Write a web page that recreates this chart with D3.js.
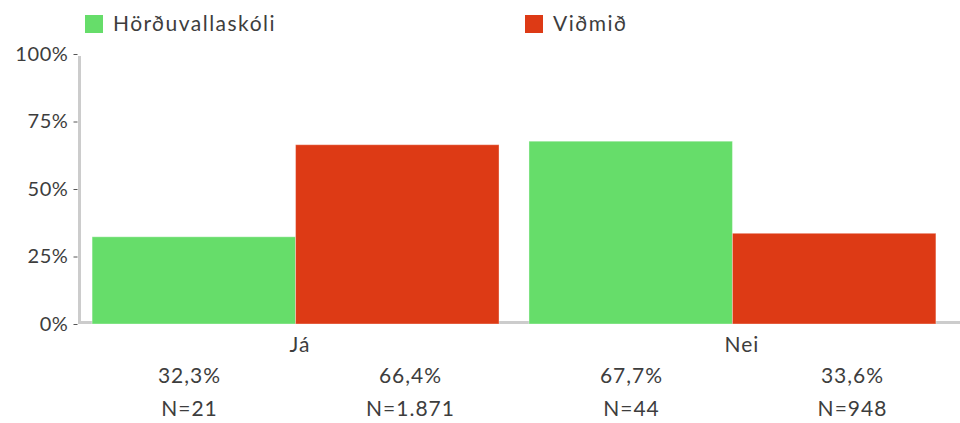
<!DOCTYPE html>
<html>
<head>
<meta charset="utf-8">
<script src="https://cdn.jsdelivr.net/npm/d3@7"></script>
<style>
  html, body { margin: 0; padding: 0; background: #fff; }
  svg { display: block; font-family: Lato, "Noto Sans", sans-serif; }
</style>
</head>
<body>
<svg id="chart" width="960" height="423"></svg>
<script>
const categories = ["Já", "Nei"];
const seriesNames = ["Hörðuvallaskóli", "Viðmið"];
const seriesColors = ["#66DD6A", "#DD3A15"];
const valuesHord = [32.3, 67.7];
const valuesVidmid = [66.4, 33.6];
const countsHord = [21, 44];
const countsVidmid = [1871, 948];
const yTicks = [0, 25, 50, 75, 100];

const seriesValues = [valuesHord, valuesVidmid];
const seriesCounts = [countsHord, countsVidmid];

const rows = [];
categories.forEach((c, ci) => {
  seriesNames.forEach((s, si) => {
    rows.push({cat: c, ser: s, si, value: seriesValues[si][ci], n: seriesCounts[si][ci]});
  });
});

const loc = d3.formatLocale({decimal: ",", thousands: ".", grouping: [3], currency: ["", ""]});
const fmtPct = v => loc.format(".1f")(v) + "%";
const fmtN = loc.format(",d");

const svg = d3.select("#chart");
const textColor = "#3d3d3d";

const y = d3.scaleLinear().domain([0, 100]).range([324, 54]);

// bars
const x0 = d3.scaleBand().domain(categories).range([79, 949]).paddingInner(0.0686).paddingOuter(0.03);
const x1 = d3.scaleBand().domain(seriesNames).range([0, x0.bandwidth()]);

// label positions
const lx0 = d3.scaleBand().domain(categories).range([79, 963]);
const lx1 = d3.scaleBand().domain(seriesNames).range([0, lx0.bandwidth()]);

// baseline
svg.append("line")
  .attr("x1", 79).attr("x2", 960)
  .attr("y1", 322.5).attr("y2", 322.5)
  .attr("stroke", "#cccccc").attr("stroke-width", 3);

// y axis vertical line
svg.append("line")
  .attr("x1", 79.5).attr("x2", 79.5)
  .attr("y1", y(100) + 2).attr("y2", 324)
  .attr("stroke", "#cccccc").attr("stroke-width", 3);

const yAxis = d3.axisLeft(y).tickValues(yTicks).tickSize(4).tickPadding(5).tickFormat(d => d + "%");
const gy = svg.append("g").attr("transform", "translate(77.5,0)").call(yAxis);
gy.select(".domain").remove();
gy.selectAll(".tick line").attr("stroke", "#555");
gy.selectAll(".tick text").attr("fill", textColor).style("font-size", "20px")
  .style("letter-spacing", "0.6px").style("font-family", "Lato, 'Noto Sans', sans-serif");

// bars
svg.append("g").selectAll("rect").data(rows).join("rect")
  .attr("x", d => x0(d.cat) + x1(d.ser))
  .attr("y", d => y(d.value))
  .attr("width", x1.bandwidth())
  .attr("height", d => y(0) - y(d.value))
  .attr("fill", d => seriesColors[d.si])
  .attr("stroke", "#ffffff").attr("stroke-opacity", 0.35).attr("stroke-width", 1);

// category labels
svg.append("g").selectAll("text").data(categories).join("text")
  .attr("x", d => lx0(d) + lx0.bandwidth() / 2)
  .attr("y", 352)
  .attr("text-anchor", "middle")
  .attr("fill", textColor)
  .style("font-size", "21px")
  .style("letter-spacing", "1px")
  .text(d => d);

// value labels
svg.append("g").selectAll("text").data(rows).join("text")
  .attr("x", d => lx0(d.cat) + lx1(d.ser) + lx1.bandwidth() / 2)
  .attr("y", 383)
  .attr("text-anchor", "middle")
  .attr("fill", textColor)
  .style("font-size", "21px")
  .style("letter-spacing", "1px")
  .text(d => fmtPct(d.value));

svg.append("g").selectAll("text").data(rows).join("text")
  .attr("x", d => lx0(d.cat) + lx1(d.ser) + lx1.bandwidth() / 2)
  .attr("y", 416)
  .attr("text-anchor", "middle")
  .attr("fill", textColor)
  .style("font-size", "21px")
  .style("letter-spacing", "1px")
  .text(d => "N=" + fmtN(d.n));

// legend
const legendX = [85, 525];
const lg = svg.append("g").selectAll("g").data(seriesNames).join("g")
  .attr("transform", (d, i) => `translate(${legendX[i]},15)`);
lg.append("rect").attr("width", 18).attr("height", 18).attr("fill", (d, i) => seriesColors[i]);
lg.append("text").attr("x", 28).attr("y", 16)
  .attr("fill", textColor).style("font-size", "21px")
  .style("letter-spacing", "1.5px")
  .text(d => d);
</script>
</body>
</html>
